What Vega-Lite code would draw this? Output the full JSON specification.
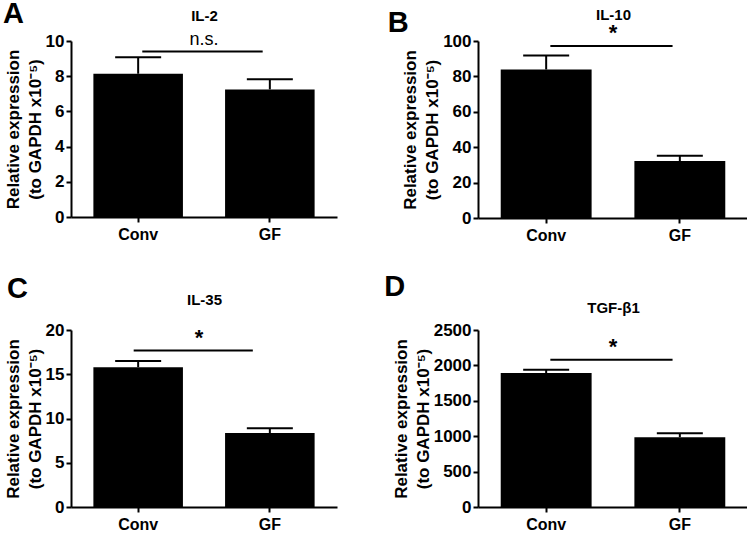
{
  "$schema": "https://vega.github.io/schema/vega-lite/v6.json",
  "background": "white",
  "padding": {"left": 3, "top": 0, "right": 0, "bottom": 0},
  "datasets": {
    "expr": [
      {"panel": "A", "group": "Conv", "mean": 8.14, "upper": 9.07},
      {"panel": "A", "group": "GF", "mean": 7.25, "upper": 7.82},
      {"panel": "B", "group": "Conv", "mean": 83.9, "upper": 91.8},
      {"panel": "B", "group": "GF", "mean": 32.2, "upper": 35.2},
      {"panel": "C", "group": "Conv", "mean": 15.8, "upper": 16.5},
      {"panel": "C", "group": "GF", "mean": 8.35, "upper": 8.9},
      {"panel": "D", "group": "Conv", "mean": 1892, "upper": 1938},
      {"panel": "D", "group": "GF", "mean": 986, "upper": 1043}
    ],
    "sig": [
      {"panel": "A", "from": "Conv", "to": "GF", "y": 9.41, "label": "n.s."},
      {"panel": "B", "from": "Conv", "to": "GF", "y": 97.2, "label": "*"},
      {"panel": "C", "from": "Conv", "to": "GF", "y": 17.67, "label": "*"},
      {"panel": "D", "from": "Conv", "to": "GF", "y": 2080, "label": "*"}
    ]
  },
  "config": {
    "view": {"stroke": null},
    "font": "Liberation Sans",
    "axis": {"labelFont": "Liberation Sans", "titleFont": "Liberation Sans", "labelColor": "black", "titleColor": "black", "domainColor": "black", "tickColor": "black", "domainWidth": 2, "tickWidth": 2, "tickSize": 5, "grid": false, "labelFontWeight": "bold", "titleFontWeight": "bold"},
    "title": {"font": "Liberation Sans", "fontSize": 29, "fontWeight": "bold", "color": "black", "anchor": "start", "frame": "bounds"}
  },
  "columns": 2,
  "spacing": {"row": 30, "column": 47},
  "concat": [
    {
      "title": {"text": "A", "offset": -21, "dx": -1},
      "width": 266, "height": 176,
      "resolve": {"axis": {"x": "independent", "y": "independent"}},
      "layer": [
        {"data": {"name": "expr"}, "transform": [{"filter": "datum.panel === 'A'"}],
         "mark": {"type": "bar", "color": "black"},
         "encoding": {
           "x": {"field": "group", "type": "nominal", "scale": {"paddingInner": 0.32, "paddingOuter": 0.17}, "axis": {"orient": "bottom", "title": null, "labelAngle": 0, "labelPadding": 4, "labelFontSize": 16, "labelFontWeight": "bold", "domainWidth": 2, "tickWidth": 2, "tickSize": 5}},
           "y": {"field": "mean", "type": "quantitative", "scale": {"domain": [0, 10], "nice": false}, "axis": {"orient": "left", "values": [0, 2, 4, 6, 8, 10], "format": "d", "labelOverlap": false, "title": ["Relative expression", "(to GAPDH x10⁻⁵)"], "titleFontSize": 17, "titleFontWeight": "bold", "titleLineHeight": 22, "titlePadding": 1, "labelPadding": 2, "labelFontSize": 17, "labelFontWeight": "bold", "domainWidth": 2, "tickWidth": 2, "tickSize": 5}}
         }},
        {"data": {"name": "expr"}, "transform": [{"filter": "datum.panel === 'A'"}],
         "mark": {"type": "rule", "color": "black", "strokeWidth": 2},
         "encoding": {
           "x": {"field": "group", "type": "nominal", "axis": null},
           "y": {"field": "mean", "type": "quantitative", "scale": {"domain": [0, 10], "nice": false}, "axis": null},
           "y2": {"field": "upper"}
         }},
        {"data": {"name": "expr"}, "transform": [{"filter": "datum.panel === 'A'"}],
         "mark": {"type": "tick", "color": "black", "thickness": 2, "size": 46, "opacity": 1},
         "encoding": {
           "x": {"field": "group", "type": "nominal", "axis": null},
           "y": {"field": "upper", "type": "quantitative", "scale": {"domain": [0, 10], "nice": false}, "axis": null}
         }},
        {"data": {"name": "sig"}, "transform": [{"filter": "datum.panel === 'A'"}],
         "mark": {"type": "rule", "color": "black", "strokeWidth": 2},
         "encoding": {
           "x": {"field": "from", "type": "nominal", "bandPosition": 0.546, "axis": null},
           "x2": {"field": "to", "bandPosition": 0.42},
           "y": {"field": "y", "type": "quantitative", "scale": {"domain": [0, 10], "nice": false}, "axis": null}
         }},
        {"data": {"name": "sig"}, "transform": [{"filter": "datum.panel === 'A'"}],
         "mark": {"type": "text", "color": "black", "fontSize": 18, "fontWeight": "normal", "font": "Liberation Sans", "baseline": "alphabetic", "dy": -6},
         "encoding": {
           "x": {"field": "from", "type": "nominal", "bandPosition": 1.235, "axis": {"orient": "top", "title": "IL-2", "domain": false, "ticks": false, "labels": false, "titleFontSize": 15, "titleFontWeight": "bold", "titlePadding": 18}},
           "y": {"field": "y", "type": "quantitative", "scale": {"domain": [0, 10], "nice": false}, "axis": null},
           "text": {"field": "label"}
         }}
      ]
    },
    {
      "title": {"text": "B", "offset": -31, "dx": -14},
      "width": 270, "height": 177,
      "resolve": {"axis": {"x": "independent", "y": "independent"}},
      "layer": [
        {"data": {"name": "expr"}, "transform": [{"filter": "datum.panel === 'B'"}],
         "mark": {"type": "bar", "color": "black"},
         "encoding": {
           "x": {"field": "group", "type": "nominal", "scale": {"paddingInner": 0.32, "paddingOuter": 0.17}, "axis": {"orient": "bottom", "title": null, "labelAngle": 0, "labelPadding": 4, "labelFontSize": 16, "labelFontWeight": "bold", "domainWidth": 2, "tickWidth": 2, "tickSize": 5}},
           "y": {"field": "mean", "type": "quantitative", "scale": {"domain": [0, 100], "nice": false}, "axis": {"orient": "left", "values": [0, 20, 40, 60, 80, 100], "format": "d", "labelOverlap": false, "title": ["Relative expression", "(to GAPDH x10⁻⁵)"], "titleFontSize": 17, "titleFontWeight": "bold", "titleLineHeight": 22, "titlePadding": 1, "labelPadding": 2, "labelFontSize": 17, "labelFontWeight": "bold", "domainWidth": 2, "tickWidth": 2, "tickSize": 5}}
         }},
        {"data": {"name": "expr"}, "transform": [{"filter": "datum.panel === 'B'"}],
         "mark": {"type": "rule", "color": "black", "strokeWidth": 2},
         "encoding": {
           "x": {"field": "group", "type": "nominal", "axis": null},
           "y": {"field": "mean", "type": "quantitative", "scale": {"domain": [0, 100], "nice": false}, "axis": null},
           "y2": {"field": "upper"}
         }},
        {"data": {"name": "expr"}, "transform": [{"filter": "datum.panel === 'B'"}],
         "mark": {"type": "tick", "color": "black", "thickness": 2, "size": 46, "opacity": 1},
         "encoding": {
           "x": {"field": "group", "type": "nominal", "axis": null},
           "y": {"field": "upper", "type": "quantitative", "scale": {"domain": [0, 100], "nice": false}, "axis": null}
         }},
        {"data": {"name": "sig"}, "transform": [{"filter": "datum.panel === 'B'"}],
         "mark": {"type": "rule", "color": "black", "strokeWidth": 2},
         "encoding": {
           "x": {"field": "from", "type": "nominal", "bandPosition": 0.546, "axis": null},
           "x2": {"field": "to", "bandPosition": 0.42},
           "y": {"field": "y", "type": "quantitative", "scale": {"domain": [0, 100], "nice": false}, "axis": null}
         }},
        {"data": {"name": "sig"}, "transform": [{"filter": "datum.panel === 'B'"}],
         "mark": {"type": "text", "color": "black", "fontSize": 22, "fontWeight": "bold", "font": "Liberation Sans", "baseline": "bottom", "dy": -1},
         "encoding": {
           "x": {"field": "from", "type": "nominal", "bandPosition": 1.235, "axis": {"orient": "top", "title": "IL-10", "domain": false, "ticks": false, "labels": false, "titleFontSize": 15, "titleFontWeight": "bold", "titlePadding": 19}},
           "y": {"field": "y", "type": "quantitative", "scale": {"domain": [0, 100], "nice": false}, "axis": null},
           "text": {"field": "label"}
         }}
      ]
    },
    {
      "title": {"text": "C", "offset": -12, "dx": 3},
      "width": 266, "height": 177,
      "resolve": {"axis": {"x": "independent", "y": "independent"}},
      "layer": [
        {"data": {"name": "expr"}, "transform": [{"filter": "datum.panel === 'C'"}],
         "mark": {"type": "bar", "color": "black"},
         "encoding": {
           "x": {"field": "group", "type": "nominal", "scale": {"paddingInner": 0.32, "paddingOuter": 0.17}, "axis": {"orient": "bottom", "title": null, "labelAngle": 0, "labelPadding": 4, "labelFontSize": 16, "labelFontWeight": "bold", "domainWidth": 2, "tickWidth": 2, "tickSize": 5}},
           "y": {"field": "mean", "type": "quantitative", "scale": {"domain": [0, 20], "nice": false}, "axis": {"orient": "left", "values": [0, 5, 10, 15, 20], "format": "d", "labelOverlap": false, "title": ["Relative expression", "(to GAPDH x10⁻⁵)"], "titleFontSize": 17, "titleFontWeight": "bold", "titleLineHeight": 22, "titlePadding": 1, "labelPadding": 2, "labelFontSize": 17, "labelFontWeight": "bold", "domainWidth": 2, "tickWidth": 2, "tickSize": 5}}
         }},
        {"data": {"name": "expr"}, "transform": [{"filter": "datum.panel === 'C'"}],
         "mark": {"type": "rule", "color": "black", "strokeWidth": 2},
         "encoding": {
           "x": {"field": "group", "type": "nominal", "axis": null},
           "y": {"field": "mean", "type": "quantitative", "scale": {"domain": [0, 20], "nice": false}, "axis": null},
           "y2": {"field": "upper"}
         }},
        {"data": {"name": "expr"}, "transform": [{"filter": "datum.panel === 'C'"}],
         "mark": {"type": "tick", "color": "black", "thickness": 2, "size": 46, "opacity": 1},
         "encoding": {
           "x": {"field": "group", "type": "nominal", "axis": null},
           "y": {"field": "upper", "type": "quantitative", "scale": {"domain": [0, 20], "nice": false}, "axis": null}
         }},
        {"data": {"name": "sig"}, "transform": [{"filter": "datum.panel === 'C'"}],
         "mark": {"type": "rule", "color": "black", "strokeWidth": 2},
         "encoding": {
           "x": {"field": "from", "type": "nominal", "bandPosition": 0.45, "axis": null},
           "x2": {"field": "to", "bandPosition": 0.31},
           "y": {"field": "y", "type": "quantitative", "scale": {"domain": [0, 20], "nice": false}, "axis": null}
         }},
        {"data": {"name": "sig"}, "transform": [{"filter": "datum.panel === 'C'"}],
         "mark": {"type": "text", "color": "black", "fontSize": 22, "fontWeight": "bold", "font": "Liberation Sans", "baseline": "bottom", "dy": -1},
         "encoding": {
           "x": {"field": "from", "type": "nominal", "bandPosition": 1.18, "axis": {"orient": "top", "title": "IL-35", "domain": false, "ticks": false, "labels": false, "titleFontSize": 15, "titleFontWeight": "bold", "titlePadding": 23}},
           "y": {"field": "y", "type": "quantitative", "scale": {"domain": [0, 20], "nice": false}, "axis": null},
           "text": {"field": "label"}
         }}
      ]
    },
    {
      "title": {"text": "D", "offset": -2, "dx": -8},
      "width": 270, "height": 177,
      "resolve": {"axis": {"x": "independent", "y": "independent"}},
      "layer": [
        {"data": {"name": "expr"}, "transform": [{"filter": "datum.panel === 'D'"}],
         "mark": {"type": "bar", "color": "black"},
         "encoding": {
           "x": {"field": "group", "type": "nominal", "scale": {"paddingInner": 0.32, "paddingOuter": 0.17}, "axis": {"orient": "bottom", "title": null, "labelAngle": 0, "labelPadding": 4, "labelFontSize": 16, "labelFontWeight": "bold", "domainWidth": 2, "tickWidth": 2, "tickSize": 5}},
           "y": {"field": "mean", "type": "quantitative", "scale": {"domain": [0, 2500], "nice": false}, "axis": {"orient": "left", "values": [0, 500, 1000, 1500, 2000, 2500], "format": "d", "labelOverlap": false, "title": ["Relative expression", "(to GAPDH x10⁻⁵)"], "titleFontSize": 17, "titleFontWeight": "bold", "titleLineHeight": 22, "titlePadding": 1, "labelPadding": 2, "labelFontSize": 17, "labelFontWeight": "bold", "domainWidth": 2, "tickWidth": 2, "tickSize": 5}}
         }},
        {"data": {"name": "expr"}, "transform": [{"filter": "datum.panel === 'D'"}],
         "mark": {"type": "rule", "color": "black", "strokeWidth": 2},
         "encoding": {
           "x": {"field": "group", "type": "nominal", "axis": null},
           "y": {"field": "mean", "type": "quantitative", "scale": {"domain": [0, 2500], "nice": false}, "axis": null},
           "y2": {"field": "upper"}
         }},
        {"data": {"name": "expr"}, "transform": [{"filter": "datum.panel === 'D'"}],
         "mark": {"type": "tick", "color": "black", "thickness": 2, "size": 46, "opacity": 1},
         "encoding": {
           "x": {"field": "group", "type": "nominal", "axis": null},
           "y": {"field": "upper", "type": "quantitative", "scale": {"domain": [0, 2500], "nice": false}, "axis": null}
         }},
        {"data": {"name": "sig"}, "transform": [{"filter": "datum.panel === 'D'"}],
         "mark": {"type": "rule", "color": "black", "strokeWidth": 2},
         "encoding": {
           "x": {"field": "from", "type": "nominal", "bandPosition": 0.546, "axis": null},
           "x2": {"field": "to", "bandPosition": 0.42},
           "y": {"field": "y", "type": "quantitative", "scale": {"domain": [0, 2500], "nice": false}, "axis": null}
         }},
        {"data": {"name": "sig"}, "transform": [{"filter": "datum.panel === 'D'"}],
         "mark": {"type": "text", "color": "black", "fontSize": 22, "fontWeight": "bold", "font": "Liberation Sans", "baseline": "bottom", "dy": -1},
         "encoding": {
           "x": {"field": "from", "type": "nominal", "bandPosition": 1.235, "axis": {"orient": "top", "title": "TGF-β1", "domain": false, "ticks": false, "labels": false, "titleFontSize": 15, "titleFontWeight": "bold", "titlePadding": 15}},
           "y": {"field": "y", "type": "quantitative", "scale": {"domain": [0, 2500], "nice": false}, "axis": null},
           "text": {"field": "label"}
         }}
      ]
    }
  ]
}
